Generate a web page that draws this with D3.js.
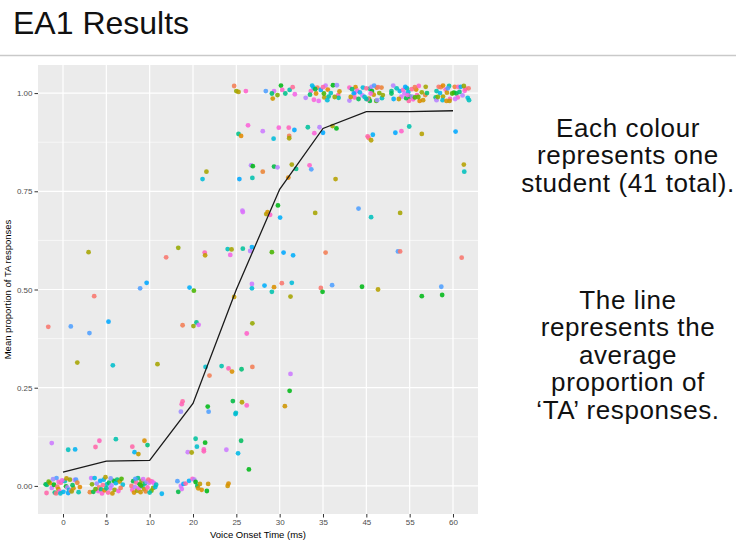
<!DOCTYPE html>
<html lang="en">
<head>
  <meta charset="UTF-8">
  <title>EA1 Results</title>
  <script src="https://cdn.jsdelivr.net/npm/d3@7"></script>
  <style>
    body { margin: 0; background: #fff; }
    text { font-family: "Liberation Sans", Arial, Helvetica, sans-serif; }
  </style>
</head>
<body>
  <div id="main" style="width: 736px; height: 541px"></div>
  <script>
    // VOT steps (discrete x levels)
    var votLevels = ["0", "5", "10", "20", "25", "30", "35", "45", "55", "60"];
    // mean proportion of TA responses at each step (the black line)
    var meanTA = [0.035, 0.063, 0.065, 0.21, 0.50, 0.755, 0.91, 0.953, 0.953, 0.955];
    var yTicks = [0, 0.25, 0.5, 0.75, 1];
    var yMinor = [0.125, 0.375, 0.625, 0.875];
    var nStudents = 41;

    // one point per student and step: [jitter (share of a step), proportion (jittered), student]
    var pts0 = [
      [-0.34, 0.405, 0], [0.18, 0.406, 27], [0.33, 0.314, 8], [-0.26, 0.109, 31], [0.12, 0.092, 20], [0.28, 0.093, 24],
      [-0.40, 0.004, 14], [-0.37, 0.003, 16], [-0.38, -0.018, 38], [-0.30, 0.007, 4], [-0.26, -0.005, 31], [-0.21, 0.003, 13],
      [-0.19, -0.017, 17], [-0.15, 0.02, 27], [-0.13, -0.002, 0], [-0.11, -0.008, 5], [-0.10, 0.01, 36], [-0.08, -0.014, 35],
      [-0.05, 0.008, 38], [0.04, 0.012, 20], [0.07, -0.001, 13], [0.10, -0.004, 30], [0.12, -0.018, 26], [0.14, -0.01, 22],
      [0.16, 0.016, 9], [0.18, -0.012, 32], [0.20, -0.014, 8], [0.24, -0.006, 5], [0.27, 0.015, 31], [0.30, 0.016, 27],
      [0.33, 0.008, 2], [0.36, -0.016, 19], [-0.33, 0.011, 11], [-0.02, 0.014, 34], [0.01, -0.015, 24], [-0.23, 0.017, 29],
      [0.08, 0.019, 6], [0.22, 0.002, 15], [-0.16, -0.019, 40], [0.39, -0.003, 3], [-0.06, -0.019, 21]
    ];
    var pts5 = [
      [-0.28, 0.483, 0], [-0.39, 0.389, 27], [0.05, 0.418, 26], [0.15, 0.307, 21], [-0.16, 0.115, 37], [-0.25, 0.099, 38],
      [0.22, 0.119, 19], [-0.41, 0.595, 8],
      [-0.38, -0.016, 2], [-0.35, 0.02, 31], [-0.33, 0.004, 10], [-0.30, -0.015, 14], [-0.27, 0.02, 23], [-0.22, 0.006, 29],
      [-0.19, -0.013, 34], [-0.17, -0.004, 0], [-0.14, 0.013, 26], [-0.12, -0.009, 17], [-0.10, -0.019, 36], [-0.06, 0.016, 24],
      [-0.04, -0.011, 3], [-0.02, 0.022, 7], [0.01, 0.004, 21], [0.04, -0.017, 38], [0.06, 0.008, 15], [0.09, -0.006, 32],
      [0.12, 0.001, 30], [0.14, -0.019, 5], [0.17, 0.013, 13], [0.19, -0.01, 9], [0.22, 0.007, 24], [0.25, 0.016, 16],
      [0.28, -0.013, 35], [0.31, 0.011, 6], [0.35, 0.018, 12], [0.38, 0.003, 22], [-0.08, 0.002, 39], [0.0, -0.006, 18],
      [0.33, -0.005, 1], [-0.25, -0.008, 11], [0.10, 0.019, 28]
    ];
    var pts10 = [
      [-0.22, 0.503, 27], [-0.07, 0.517, 26], [0.18, 0.31, 8], [0.38, 0.582, 0], [-0.40, 0.10, 38], [-0.35, 0.086, 24],
      [-0.26, 0.081, 6], [-0.12, 0.115, 4], [-0.05, 0.104, 16],
      [-0.42, 0.0, 0], [-0.40, -0.01, 36], [-0.38, 0.012, 14], [-0.36, -0.017, 4], [-0.34, -0.003, 30], [-0.31, 0.009, 38],
      [-0.29, -0.012, 8], [-0.27, 0.02, 17], [-0.25, -0.006, 34], [-0.23, 0.004, 13], [-0.21, -0.016, 5], [-0.19, 0.013, 10],
      [-0.17, -0.001, 21], [-0.15, 0.017, 32], [-0.13, -0.008, 7], [-0.11, 0.006, 16], [-0.09, -0.014, 2], [-0.07, 0.01, 29],
      [-0.05, -0.004, 37], [-0.03, 0.016, 40], [-0.01, 0.008, 31], [0.02, 0.012, 39], [0.04, -0.012, 11], [0.06, 0.011, 35],
      [0.08, -0.005, 9], [0.10, 0.007, 33], [0.13, -0.003, 23], [0.15, 0.003, 20], [0.28, -0.02, 24], [-0.33, 0.018, 27],
      [0.0, -0.017, 19], [-0.20, 0.001, 12]
    ];
    var pts20 = [
      [0.22, 0.781, 22], [0.31, 0.80, 8], [-0.34, 0.606, 9], [0.27, 0.594, 37], [0.28, 0.587, 6], [-0.08, 0.505, 25],
      [0.02, 0.497, 12], [-0.24, 0.409, 1], [0.01, 0.407, 9], [0.08, 0.416, 17], [0.13, 0.41, 32], [-0.26, 0.208, 37],
      [-0.24, 0.215, 38], [-0.28, 0.189, 29], [0.36, 0.189, 27], [0.34, 0.202, 13], [0.38, 0.281, 1], [0.29, 0.303, 21],
      [0.06, 0.12, 18], [0.09, 0.10, 21], [0.28, 0.11, 13], [0.25, 0.093, 36], [0.25, 0.088, 37], [-0.12, 0.086, 31],
      [-0.03, 0.085, 8],
      [-0.34, -0.015, 14], [-0.36, 0.012, 27], [-0.26, -0.008, 32], [-0.28, 0.0, 31], [-0.22, 0.005, 26], [-0.17, 0.006, 38],
      [-0.09, 0.013, 25], [-0.01, 0.018, 36], [0.03, 0.016, 30], [0.06, 0.01, 13], [0.10, 0.0, 15], [0.12, -0.006, 5],
      [0.20, -0.01, 4], [0.35, 0.005, 5], [0.32, -0.013, 13], [0.16, 0.005, 6]
    ];
    var pts25 = [
      [-0.05, 1.018, 1], [0.0, 1.005, 9], [0.05, 1.003, 7], [0.22, 1.005, 36], [0.27, 0.918, 35], [0.05, 0.896, 17],
      [0.11, 0.891, 3], [0.07, 0.781, 26], [0.37, 0.784, 19], [0.14, 0.701, 31], [0.15, 0.697, 32], [0.34, 0.816, 30],
      [0.38, 0.814, 13], [-0.20, 0.603, 20], [-0.11, 0.602, 8], [0.15, 0.604, 18], [-0.14, 0.588, 34], [0.32, 0.598, 30],
      [0.36, 0.608, 25], [0.36, 0.514, 31], [0.36, 0.503, 22], [-0.05, 0.481, 6], [0.37, 0.414, 9], [0.24, 0.388, 36],
      [-0.34, 0.305, 19], [-0.18, 0.299, 37], [-0.10, 0.291, 4], [0.12, 0.297, 16], [0.37, 0.303, 1], [-0.08, 0.216, 14],
      [0.13, 0.213, 7], [0.24, 0.205, 36], [-0.02, 0.183, 22], [-0.01, 0.186, 21], [-0.23, 0.092, 31], [0.11, 0.115, 15],
      [0.04, 0.083, 23], [0.29, 0.042, 13], [-0.20, 0.0, 5], [-0.18, 0.006, 4]
    ];
    var pts30 = [
      [-0.32, 1.005, 27], [-0.13, 1.005, 32], [0.03, 1.019, 13], [-0.18, 0.999, 16], [-0.16, 0.986, 5], [0.06, 1.008, 36],
      [0.13, 0.999, 17], [0.23, 1.008, 19], [0.35, 0.997, 34], [-0.05, 0.995, 10], [0.30, 1.015, 39],
      [-0.39, 0.903, 31], [-0.14, 0.884, 22], [-0.02, 0.912, 35], [0.21, 0.912, 37], [0.22, 0.891, 1], [0.22, 0.885, 8],
      [0.34, 0.906, 26],
      [-0.39, 0.80, 2], [-0.13, 0.813, 14], [-0.05, 0.811, 30], [0.28, 0.818, 8], [0.38, 0.807, 17], [0.20, 0.785, 3],
      [-0.31, 0.692, 7], [-0.28, 0.697, 5], [-0.22, 0.69, 36], [-0.04, 0.714, 13], [0.01, 0.683, 25],
      [-0.18, 0.595, 12], [0.09, 0.594, 26], [0.31, 0.587, 25],
      [-0.35, 0.51, 25], [-0.13, 0.506, 4], [0.05, 0.516, 0], [0.28, 0.517, 22], [-0.18, 0.494, 19], [0.25, 0.482, 8],
      [0.25, 0.285, 31], [0.23, 0.242, 13], [0.12, 0.203, 5]
    ];
    var pts35 = [
      [-0.25, 1.019, 23], [-0.22, 1.014, 24], [-0.28, 1.005, 36], [-0.13, 1.014, 1], [-0.40, 0.988, 30], [-0.21, 0.983, 35],
      [-0.16, 0.999, 4], [0.03, 0.989, 7], [0.02, 0.999, 12], [0.13, 0.991, 18], [0.06, 1.019, 31], [0.11, 1.009, 3],
      [0.23, 1.02, 13], [0.32, 1.02, 29], [0.35, 0.995, 37], [0.36, 0.988, 19], [-0.30, 0.996, 16], [-0.05, 1.008, 26],
      [0.18, 1.0, 20], [0.27, 0.99, 9], [-0.10, 0.98, 33], [0.0, 1.015, 38], [-0.18, 1.01, 14], [0.38, 1.004, 5],
      [0.10, 0.982, 22],
      [-0.20, 0.898, 35], [-0.35, 0.913, 18], [-0.08, 0.913, 30], [0.0, 0.899, 26], [0.22, 0.916, 8], [0.31, 0.91, 13],
      [-0.31, 0.816, 36], [-0.27, 0.806, 27], [0.29, 0.781, 7], [-0.18, 0.695, 8], [0.06, 0.594, 1],
      [-0.05, 0.504, 0], [-0.01, 0.494, 13], [0.21, 0.511, 27]
    ];
    var pts45 = [
      [-0.39, 1.014, 36], [-0.39, 0.981, 30], [-0.25, 1.015, 4], [-0.21, 1.006, 35], [-0.26, 1.001, 32], [-0.29, 0.999, 26],
      [-0.27, 0.989, 37], [-0.08, 1.014, 22], [-0.09, 0.994, 31], [0.08, 1.011, 17], [0.12, 1.016, 30], [0.24, 1.014, 3],
      [0.13, 1.005, 13], [0.17, 0.996, 5], [0.06, 0.986, 8], [0.08, 0.98, 14], [0.03, 0.984, 38], [0.36, 0.987, 20],
      [0.35, 1.014, 2], [0.23, 0.98, 12], [0.25, 0.982, 29], [0.0, 0.985, 18], [-0.15, 1.002, 24], [0.30, 1.0, 10],
      [-0.33, 1.01, 16], [0.0, 1.012, 39], [0.18, 1.019, 27], [-0.04, 0.99, 21], [0.38, 0.995, 9], [-0.18, 0.985, 15],
      [0.10, 0.999, 34], [0.27, 1.015, 0], [-0.36, 0.99, 6],
      [0.15, 0.894, 25], [0.05, 0.886, 0], [0.03, 0.89, 38], [0.11, 0.88, 7],
      [-0.18, 0.706, 27], [0.11, 0.684, 20], [-0.10, 0.507, 13], [0.27, 0.50, 7]
    ];
    var pts55 = [
      [-0.38, 1.019, 30], [-0.42, 1.005, 17], [-0.42, 0.999, 15], [-0.37, 0.985, 25], [-0.23, 1.005, 24], [-0.15, 1.008, 36],
      [-0.12, 0.999, 31], [-0.06, 1.012, 18], [0.0, 0.991, 13], [0.15, 1.009, 4], [0.21, 1.018, 36], [0.37, 1.016, 8],
      [0.17, 0.995, 37], [0.05, 0.991, 29], [-0.02, 0.98, 38], [0.08, 0.984, 35], [0.23, 0.98, 3], [0.31, 0.982, 5],
      [0.12, 0.989, 12], [-0.19, 0.991, 32], [-0.08, 0.987, 14], [-0.03, 1.003, 22], [0.36, 0.995, 2], [-0.30, 1.012, 20],
      [0.28, 1.002, 9], [-0.10, 1.016, 26], [0.05, 1.01, 39], [0.20, 0.99, 11], [-0.25, 0.985, 6], [0.40, 1.0, 16],
      [-0.05, 0.995, 34], [0.12, 1.015, 1],
      [-0.33, 0.899, 26], [-0.19, 0.903, 36], [-0.01, 0.915, 19], [0.28, 0.896, 7],
      [-0.22, 0.695, 8], [-0.27, 0.597, 27], [-0.22, 0.597, 0], [0.28, 0.483, 13]
    ];
    var pts60 = [
      [-0.38, 1.005, 19], [-0.33, 1.016, 0], [-0.28, 1.015, 1], [-0.23, 1.019, 3], [-0.09, 1.018, 18], [-0.17, 1.009, 36],
      [-0.14, 1.001, 5], [-0.23, 0.991, 8], [-0.40, 0.989, 17], [-0.24, 0.982, 22], [-0.38, 0.982, 30], [-0.15, 0.98, 4],
      [-0.07, 0.985, 37], [-0.08, 0.98, 6], [0.02, 1.001, 13], [0.08, 0.999, 14], [0.04, 1.016, 2], [0.12, 1.016, 37],
      [0.18, 1.016, 25], [0.22, 0.994, 30], [0.27, 1.006, 35], [0.29, 1.011, 38], [0.36, 1.012, 0], [0.34, 0.988, 22],
      [0.37, 0.982, 20], [0.11, 0.989, 36], [-0.02, 0.999, 12], [-0.30, 1.0, 24], [0.05, 0.985, 31], [0.25, 1.018, 9],
      [-0.12, 1.012, 27], [0.15, 1.003, 16], [-0.35, 0.99, 10],
      [0.06, 0.902, 26], [0.25, 0.818, 7], [0.26, 0.80, 20], [0.20, 0.581, 0], [-0.27, 0.507, 27], [-0.25, 0.486, 13]
    ];
    var pointsByLevel = [pts0, pts5, pts10, pts20, pts25, pts30, pts35, pts45, pts55, pts60];

    // ggplot2 default hue palette: polar LUV, c = 100, l = 65
    function hueColor(h) {
      var c = 100, l = 65, hr = h * Math.PI / 180;
      var u = c * Math.cos(hr), v = c * Math.sin(hr);
      var Xn = 95.047, Yn = 100, Zn = 108.883;
      var un = 4 * Xn / (Xn + 15 * Yn + 3 * Zn), vn = 9 * Yn / (Xn + 15 * Yn + 3 * Zn);
      var Y = Yn * Math.pow((l + 16) / 116, 3);
      var up = u / (13 * l) + un, vp = v / (13 * l) + vn;
      var X = 9 * Y * up / (4 * vp);
      var Z = 3 * Y / vp - X / 3 - 5 * Y;
      var x = X / 100, y = Y / 100, z = Z / 100;
      var rgb = [
        3.2406 * x - 1.5372 * y - 0.4986 * z,
        -0.9689 * x + 1.8758 * y + 0.0415 * z,
        0.0557 * x - 0.2040 * y + 1.0570 * z
      ].map(function (t) {
        t = t <= 0.0031308 ? 12.92 * t : 1.055 * Math.pow(t, 1 / 2.4) - 0.055;
        return Math.round(255 * Math.max(0, Math.min(1, t)));
      });
      return d3.rgb(rgb[0], rgb[1], rgb[2]).formatHex();
    }
    var palette = [];
    for (var i = 0; i < nStudents; i++) palette.push(hueColor(15 + 360 * i / nStudents));

    var width = 736, height = 541;
    var panel = { left: 38, right: 478, top: 65, bottom: 514 };

    var svg = d3.select("#main").append("svg")
      .attr("width", width)
      .attr("height", height);

    // slide title + rule
    svg.append("text")
      .attr("x", 13)
      .attr("y", 34)
      .attr("font-size", 32)
      .attr("fill", "#111")
      .text("EA1 Results");
    svg.append("line")
      .attr("x1", 0).attr("x2", width)
      .attr("y1", 55.5).attr("y2", 55.5)
      .attr("stroke", "#c9c9c9")
      .attr("stroke-width", 1.6);

    var x = d3.scalePoint()
      .domain(votLevels)
      .range([panel.left, panel.right])
      .padding(0.577);
    var y = d3.scaleLinear()
      .domain([-0.0715, 1.0715])
      .range([panel.bottom, panel.top]);

    // panel
    svg.append("rect")
      .attr("x", panel.left).attr("y", panel.top)
      .attr("width", panel.right - panel.left)
      .attr("height", panel.bottom - panel.top)
      .attr("fill", "#EBEBEB");

    var grid = svg.append("g").attr("stroke", "#fff");
    grid.selectAll(".minor").data(yMinor).enter().append("line")
      .attr("x1", panel.left).attr("x2", panel.right)
      .attr("y1", function (d) { return y(d); }).attr("y2", function (d) { return y(d); })
      .attr("stroke-width", 0.6);
    grid.selectAll(".majorY").data(yTicks).enter().append("line")
      .attr("x1", panel.left).attr("x2", panel.right)
      .attr("y1", function (d) { return y(d); }).attr("y2", function (d) { return y(d); })
      .attr("stroke-width", 1.2);
    grid.selectAll(".majorX").data(votLevels).enter().append("line")
      .attr("y1", panel.top).attr("y2", panel.bottom)
      .attr("x1", function (d) { return x(d); }).attr("x2", function (d) { return x(d); })
      .attr("stroke-width", 1.2);

    // points
    var pts = [];
    pointsByLevel.forEach(function (arr, li) {
      arr.forEach(function (p) {
        pts.push({ level: votLevels[li], jit: p[0], value: p[1], student: p[2] });
      });
    });
    svg.append("g").selectAll("circle").data(pts).enter().append("circle")
      .attr("cx", function (d) { return x(d.level) + d.jit * x.step(); })
      .attr("cy", function (d) { return y(d.value); })
      .attr("r", 2.4)
      .attr("fill", function (d) { return palette[d.student]; })
      .attr("fill-opacity", 0.88);

    // mean line
    var line = d3.line()
      .x(function (d, i) { return x(votLevels[i]); })
      .y(function (d) { return y(d); });
    svg.append("path")
      .datum(meanTA)
      .attr("d", line)
      .attr("fill", "none")
      .attr("stroke", "#1a1a1a")
      .attr("stroke-width", 1.3);

    // axes
    var xAxis = svg.append("g")
      .attr("transform", "translate(0," + panel.bottom + ")")
      .call(d3.axisBottom(x).tickSize(3.5).tickPadding(2));
    var yAxis = svg.append("g")
      .attr("transform", "translate(" + panel.left + ",0)")
      .call(d3.axisLeft(y).tickValues(yTicks).tickFormat(d3.format(".2f")).tickSize(3.5).tickPadding(2));
    [xAxis, yAxis].forEach(function (g) {
      g.select(".domain").remove();
      g.selectAll(".tick line").attr("stroke", "#333").attr("stroke-width", 1);
      g.selectAll(".tick text")
        .attr("fill", "#4D4D4D")
        .attr("font-size", 8)
        .attr("font-family", "Liberation Sans, Arial, sans-serif");
    });

    svg.append("text")
      .attr("x", (panel.left + panel.right) / 2)
      .attr("y", 538)
      .attr("text-anchor", "middle")
      .attr("font-size", 9.5)
      .text("Voice Onset Time (ms)");
    svg.append("text")
      .attr("transform", "translate(11," + (panel.top + panel.bottom) / 2 + ") rotate(-90)")
      .attr("text-anchor", "middle")
      .attr("font-size", 9.5)
      .text("Mean proportion of TA responses");

    // side notes
    var note1 = ["Each colour", "represents one", "student (41 total)."];
    var note2 = ["The line", "represents the", "average", "proportion of", "\u2018TA\u2019 responses."];
    function block(lines, y0) {
      svg.append("g").selectAll("text").data(lines).enter().append("text")
        .attr("x", 628)
        .attr("y", function (d, i) { return y0 + i * 27.4; })
        .attr("text-anchor", "middle")
        .attr("font-size", 26)
        .attr("letter-spacing", 0.6)
        .attr("fill", "#111")
        .text(function (d) { return d; });
    }
    block(note1, 137);
    block(note2, 309);
  </script>
</body>
</html>
